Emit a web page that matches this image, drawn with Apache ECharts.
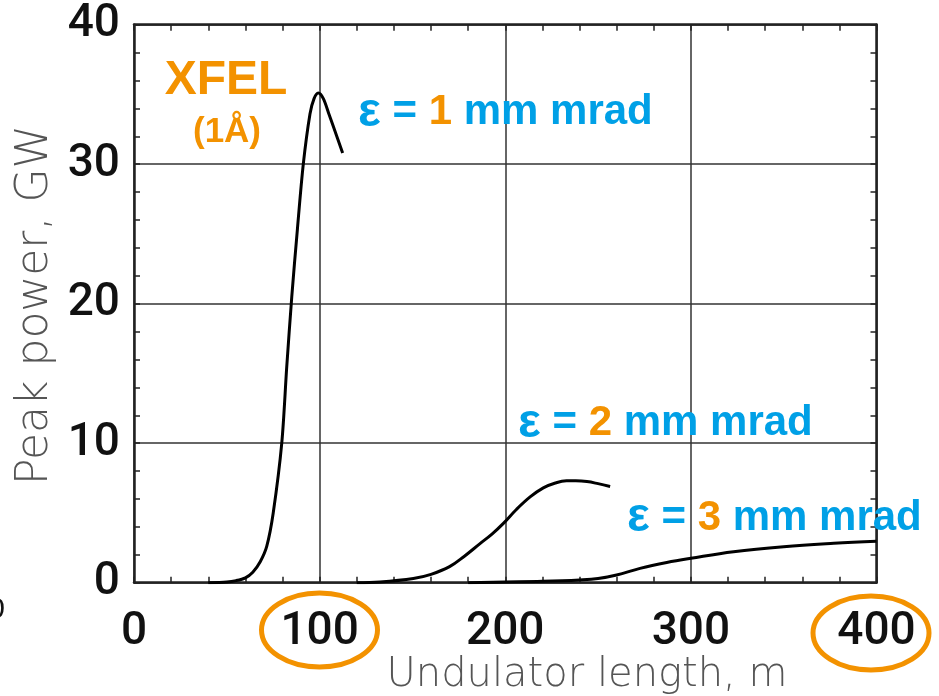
<!DOCTYPE html>
<html>
<head>
<meta charset="utf-8">
<script src="https://cdn.jsdelivr.net/npm/echarts@6/dist/echarts.min.js"></script>
<style>html,body{margin:0;padding:0;background:#fff}#c{width:939px;height:696px}</style>
</head>
<body>
<div id="c"></div>
<script>
// ---- data ----
const xTicks = [0, 100, 200, 300, 400];
const yTicks = [0, 10, 20, 30, 40];

const e1X = [40, 50, 55, 60, 64, 68, 71.5, 75, 79.6, 82.3, 85, 88, 91.2, 94.8, 97, 99.3, 102, 105, 107.4, 112.4];
const e1Y = [0, 0.05, 0.15, 0.35, 0.75, 1.5, 2.6, 5.0, 10, 15.5, 20.5, 25.3, 30, 33.6, 34.7, 35.1, 34.7, 33.6, 32.7, 30.8];

const e2X = [120, 132.5, 150.5, 160, 170, 178, 186.4, 193, 199, 206, 213.4, 220.5, 227, 233, 238, 244, 250, 256.5];
const e2Y = [0, 0.05, 0.3, 0.6, 1.15, 1.9, 2.8, 3.5, 4.25, 5.25, 6.15, 6.8, 7.15, 7.3, 7.3, 7.25, 7.1, 6.9];

const e3X = [180, 200, 220, 240, 250, 260, 272.6, 287, 300, 323, 350, 377, 400];
const e3Y = [0, 0.05, 0.1, 0.2, 0.3, 0.55, 1.03, 1.45, 1.75, 2.22, 2.58, 2.82, 2.97];

const pairs = (xs, ys) => xs.map((x, i) => [x, ys[i]]);

const BLUE = '#00A0E6';
const ORANGE = '#F39200';
const tickFont = {fontFamily: 'Roboto', fontWeight: 500, fontSize: 46, color: '#111'};
const frameLine = {show: true, onZero: false, lineStyle: {color: '#222', width: 2.5}};
const minor = {show: true, splitNumber: 5, length: 6, lineStyle: {color: '#222', width: 1.5}};
const tick = {show: true, inside: true, length: 6, lineStyle: {color: '#222', width: 1.5}};
const grid = {show: true, lineStyle: {color: '#333', width: 1.5}};

const chart = echarts.init(document.getElementById('c'), null, {renderer: 'canvas'});
const epsRich = {
  e: {fontFamily: 'Liberation Sans', fontWeight: 'bold', fontSize: 48, fill: BLUE, color: BLUE},
  b: {fontFamily: 'Liberation Sans', fontWeight: 'bold', fontSize: 42, fill: BLUE, color: BLUE},
  o: {fontFamily: 'Liberation Sans', fontWeight: 'bold', fontSize: 42, fill: ORANGE, color: ORANGE}
};
function epsLabel(n, x, y) {
  return {
    type: 'text', left: x, top: y - 27, z: 10,
    style: {text: '{e|ε}{b| = }{o|' + n + '}{b| mm mrad}', rich: epsRich}
  };
}

chart.setOption({
  animation: false,
  backgroundColor: '#fff',
  grid: {left: 134, right: 62.5, top: 24.7, bottom: 113.3, containLabel: false},
  xAxis: [
    {type: 'value', min: xTicks[0], max: xTicks[xTicks.length - 1], interval: 100, position: 'bottom',
     axisLine: frameLine, axisTick: tick, minorTick: minor, splitLine: grid,
     axisLabel: Object.assign({margin: 27, formatter: v => xTicks.includes(v) ? String(v) : ''}, tickFont)},
    {type: 'value', min: 0, max: 400, interval: 100, position: 'top',
     axisLine: frameLine, axisTick: tick, minorTick: minor, splitLine: {show: false}, axisLabel: {show: false}}
  ],
  yAxis: [
    {type: 'value', min: yTicks[0], max: yTicks[yTicks.length - 1], interval: 10, position: 'left',
     axisLine: frameLine, axisTick: tick, minorTick: minor, splitLine: grid,
     axisLabel: Object.assign({margin: 14, formatter: v => yTicks.includes(v) ? String(v) : ''}, tickFont)},
    {type: 'value', min: 0, max: 40, interval: 10, position: 'right',
     axisLine: frameLine, axisTick: tick, minorTick: minor, splitLine: {show: false}, axisLabel: {show: false}}
  ],
  series: [
    {name: 'ε = 1 mm mrad', type: 'line', data: pairs(e1X, e1Y), smooth: 0.3, symbol: 'none',
     lineStyle: {color: '#000', width: 3}},
    {name: 'ε = 2 mm mrad', type: 'line', data: pairs(e2X, e2Y), smooth: 0.4, symbol: 'none',
     lineStyle: {color: '#000', width: 3}},
    {name: 'ε = 3 mm mrad', type: 'line', data: pairs(e3X, e3Y), smooth: 0.4, symbol: 'none',
     lineStyle: {color: '#000', width: 3}}
  ],
  graphic: [
    {type: 'text', x: 226, y: 81, z: 10,
     style: {text: 'XFEL', fontFamily: 'Liberation Sans', fontWeight: 'bold', fontSize: 48, fill: ORANGE,
             align: 'center', verticalAlign: 'middle'}},
    {type: 'text', x: 227, y: 132, z: 10,
     style: {text: '(1Å)', fontFamily: 'Liberation Sans', fontWeight: 'bold', fontSize: 35, fill: ORANGE,
             align: 'center', verticalAlign: 'middle'}},
    epsLabel(1, 358, 115.5),
    epsLabel(2, 518, 426.5),
    epsLabel(3, 627, 521),
    {type: 'text', x: 36, y: 305, rotation: Math.PI / 2, z: 10,
     style: {text: 'Peak power, GW', fontFamily: 'DejaVu Sans', fontWeight: 200, fontSize: 44, fill: '#555',
             align: 'center', verticalAlign: 'middle'}},
    {type: 'text', x: 587, y: 676, z: 10,
     style: {text: 'Undulator length, m', fontFamily: 'DejaVu Sans', fontWeight: 200, fontSize: 40, fill: '#555',
             align: 'center', verticalAlign: 'middle'}},
    {type: 'ellipse', shape: {cx: 319.5, cy: 630, rx: 58, ry: 37}, z: 10,
     style: {fill: 'none', stroke: ORANGE, lineWidth: 5}},
    {type: 'ellipse', shape: {cx: 871, cy: 633, rx: 58, ry: 37}, z: 10,
     style: {fill: 'none', stroke: ORANGE, lineWidth: 5}},
    {type: 'text', x: 5, y: 610, z: 10,
     style: {text: '0', fontFamily: 'Liberation Sans', fontSize: 30, fill: '#111', align: 'right', verticalAlign: 'middle'}}
  ]
});
</script>
</body>
</html>
